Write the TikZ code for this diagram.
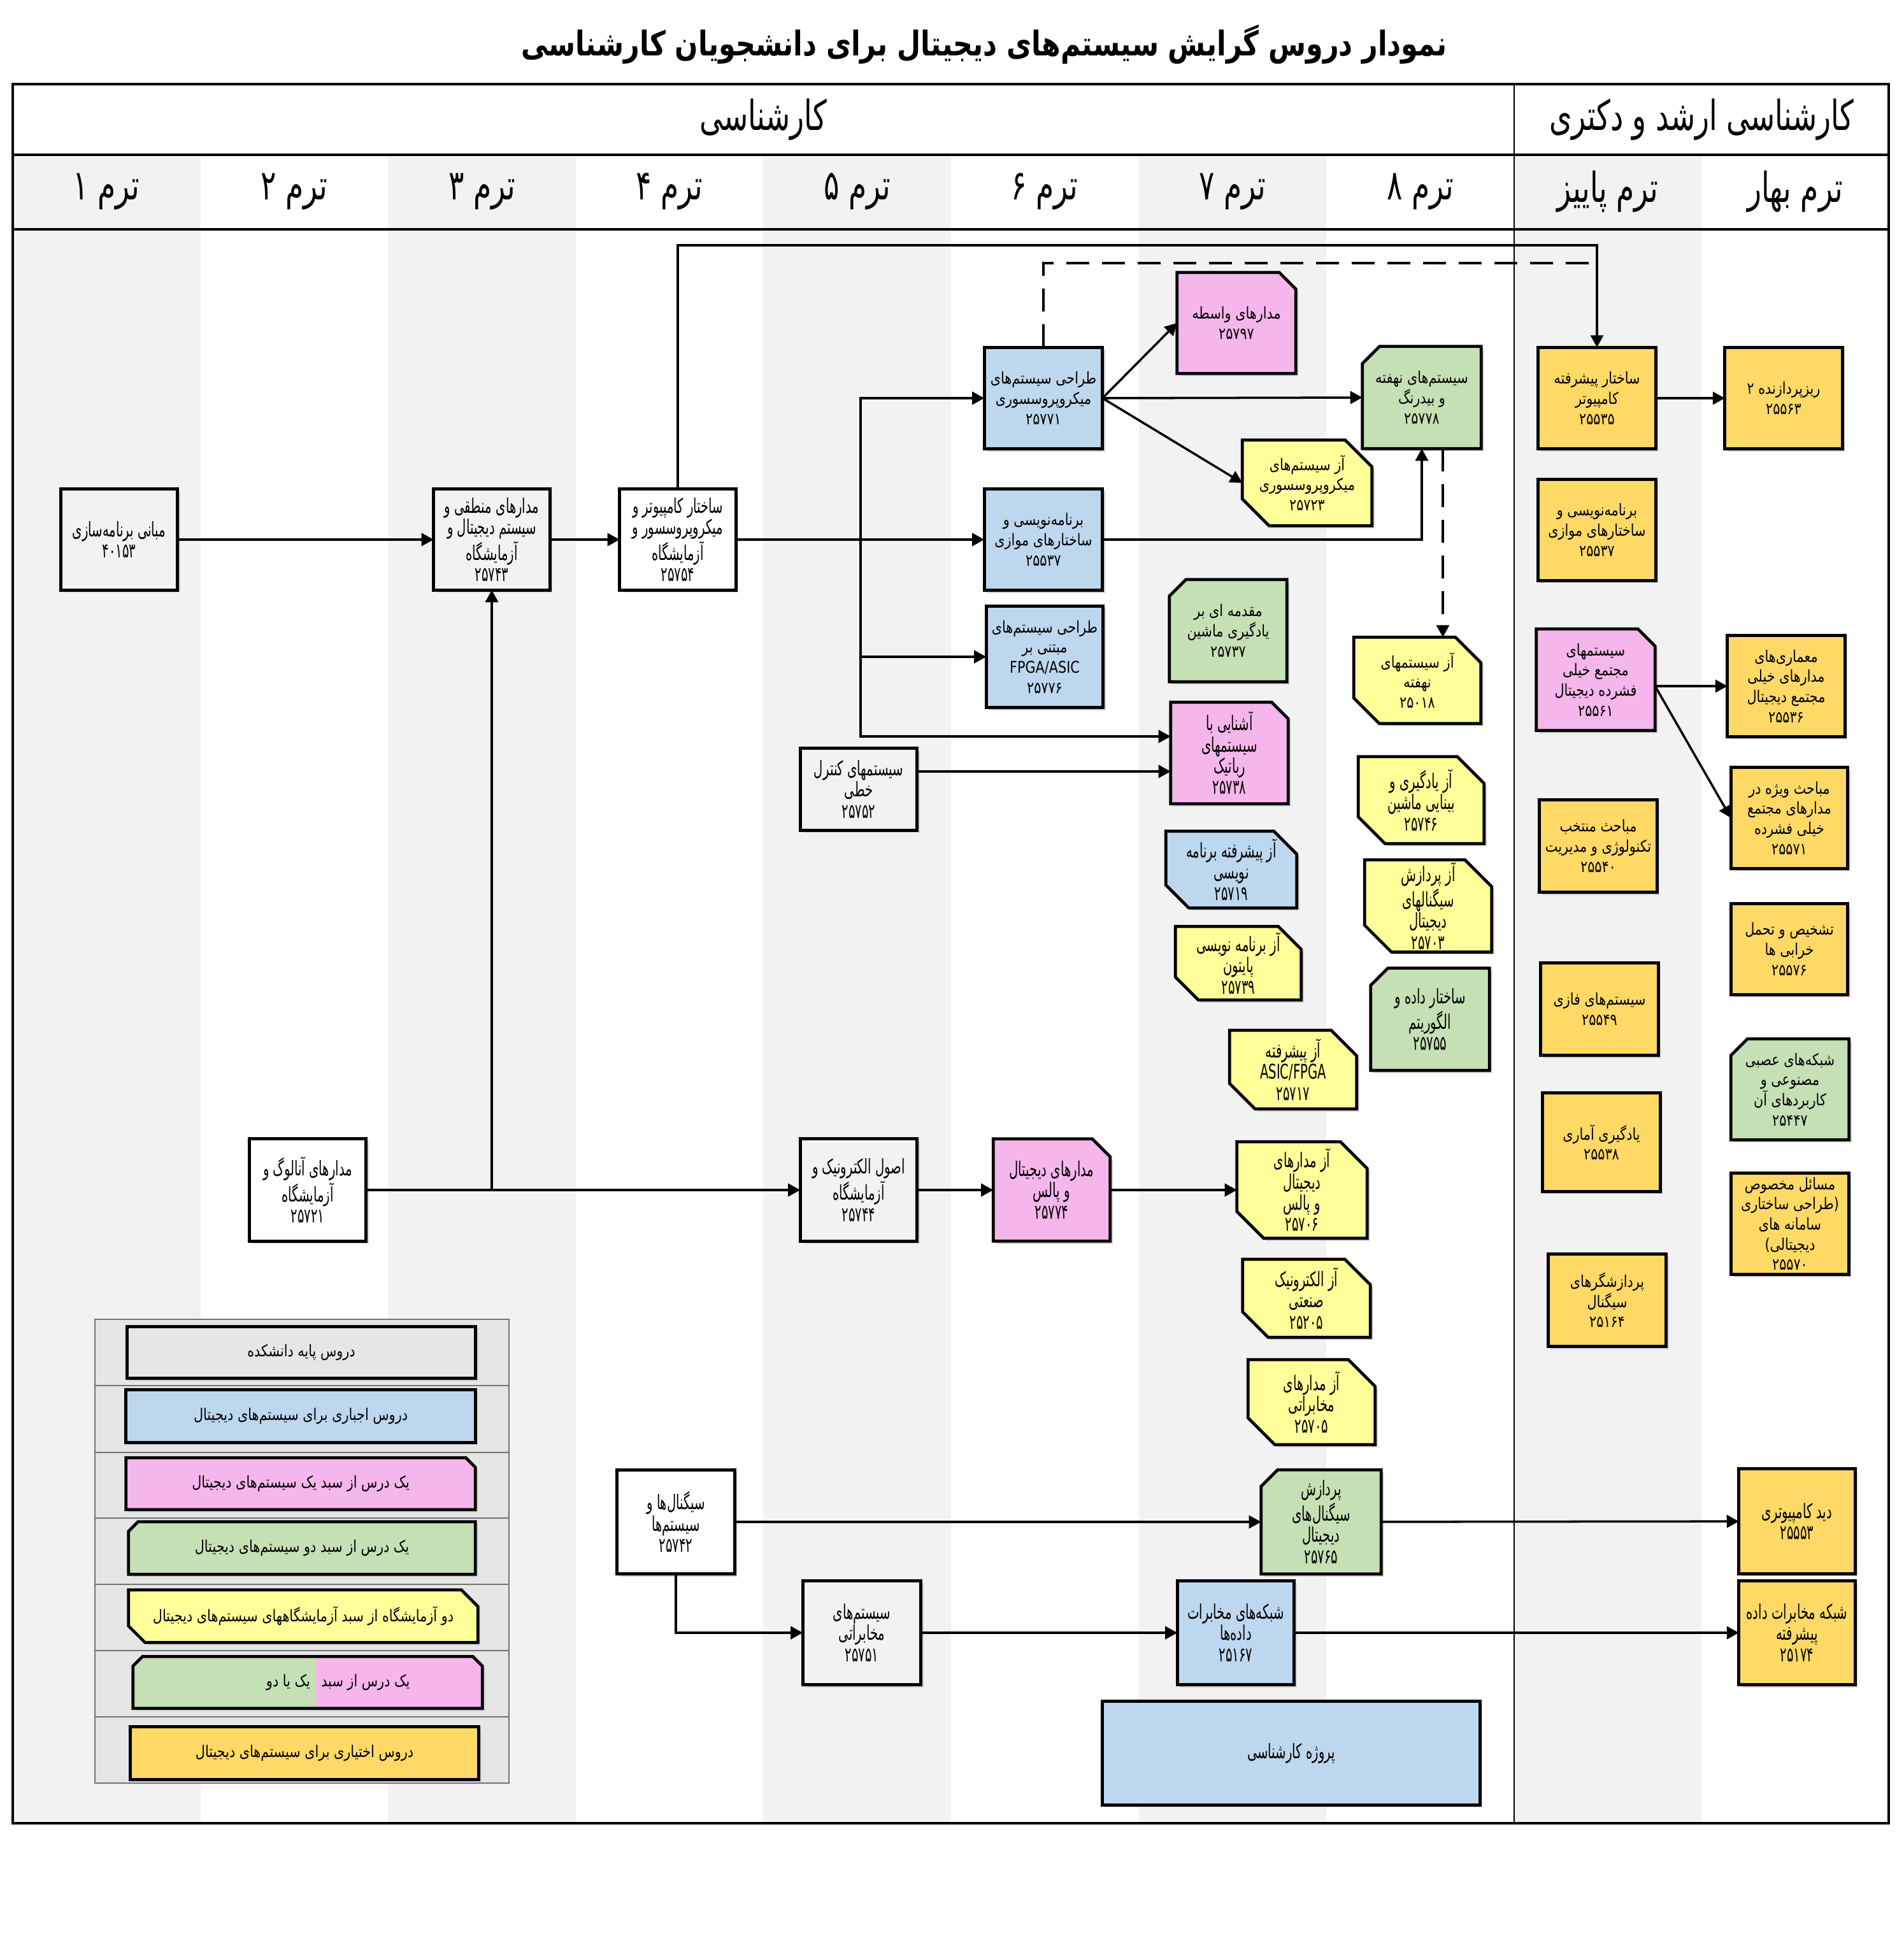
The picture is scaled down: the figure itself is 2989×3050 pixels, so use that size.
\documentclass[tikz,border=0pt]{standalone}
\usepackage{fontspec}
\usetikzlibrary{arrows.meta,calc}
\TeXXeTstate=1
\newfontfamily\fa[Script=Arabic,FakeStretch=0.82]{DejaVu Sans}
\newfontfamily\fan[Script=Arabic,FakeStretch=0.62]{DejaVu Sans}
\newfontfamily\fah[Script=Arabic,FakeStretch=0.7]{DejaVu Sans}
\newfontfamily\fat[Script=Arabic,FakeStretch=0.8]{DejaVu Sans}
\newcommand\RL[1]{\beginR #1\endR}
\definecolor{cgray}{RGB}{242,242,242}
\definecolor{cleg}{RGB}{230,230,230}
\definecolor{cblue}{RGB}{189,215,238}
\definecolor{cpink}{RGB}{245,182,235}
\definecolor{cgreen}{RGB}{197,224,180}
\definecolor{cyel}{RGB}{255,255,153}
\definecolor{corg}{RGB}{255,217,102}
\pgfdeclarelayer{bg}
\pgfdeclarelayer{boxes}
\pgfsetlayers{bg,boxes,main}
\def\pR#1{(#1.north west) rectangle (#1.south east)}
\def\pTR#1{(#1.north west) -- ([xshift=-\chf]#1.north east) -- ([yshift=-\chf]#1.north east) -- (#1.south east) -- (#1.south west) -- cycle}
\def\pTL#1{([xshift=\chf]#1.north west) -- (#1.north east) -- (#1.south east) -- (#1.south west) -- ([yshift=-\chf]#1.north west) -- cycle}
\def\pY#1{(#1.north west) -- ([xshift=-\chf]#1.north east) -- ([yshift=-\chf]#1.north east) -- (#1.south east) -- ([xshift=\chf]#1.south west) -- ([yshift=\chf]#1.south west) -- cycle}
\def\pLR#1{([xshift=\chf]#1.north west) -- ([xshift=-\chf]#1.north east) -- ([yshift=-\chf]#1.north east) -- (#1.south east) -- (#1.south west) -- ([yshift=-\chf]#1.north west) -- cycle}
\newcommand\bx[4]{\begin{pgfonlayer}{boxes}\def\chf{#4}\fill[black!18,transform canvas={shift={(0.04cm,-0.04cm)}}] #1{#2};\draw[boxline,fill=#3] #1{#2};\end{pgfonlayer}}
\tikzset{
  boxline/.style={line width=1.35pt,line join=miter},
  sz/.style 2 args={minimum width=#1cm,minimum height=#2cm},
  bw/.style={inner sep=1pt,align=center,font=\fa\fontsize{7.2}{9}\selectfont},
  bc/.style={inner sep=1pt,align=center,font=\fan\fontsize{9}{9.5}\selectfont},
  lg/.style={inner sep=0pt,align=center,font=\fa\fontsize{7.2}{9}\selectfont},
  hd/.style={inner sep=0pt,font=\fah\fontsize{18.5}{20}\selectfont},
  conn/.style={line width=1pt,-{Triangle[length=0.19cm,width=0.2cm]}},
  dsh/.style={line width=1pt,dash pattern=on 0.36cm off 0.2cm},
}
\begin{document}
\begin{tikzpicture}[x=0.01cm,y=-0.01cm]
\useasboundingbox (0,0) rectangle (2989,3050);
\begin{pgfonlayer}{bg}
\fill[white] (0,0) rectangle (2989,3050);
\foreach \c in {0,2,4,6} \fill[cgray] ({20+\c*294.6},243) rectangle ({20+(\c+1)*294.6},2862);
\fill[cgray] (2377,243) rectangle (2671,2862);
\fill[cleg,draw=black!55,line width=0.5pt] (149,2071) rectangle (799,2799);
\foreach \yy in {2175,2280,2383,2487,2591,2695} \draw[black!55,line width=0.5pt] (149,\yy) -- (799,\yy);
\end{pgfonlayer}
% frame
\draw[line width=1.2pt] (20,132) rectangle (2965,2862);
\draw[line width=1.2pt] (20,243) -- (2965,243);
\draw[line width=1.2pt] (20,360) -- (2965,360);
\draw[line width=0.7pt] (2377,132) -- (2377,2862);
% headers
\node[inner sep=0pt,font=\fat\bfseries\fontsize{15.2}{18}\selectfont] (title) at (1545,70) {\RL{نمودار دروس گرایش سیستم‌های دیجیتال برای دانشجویان کارشناسی}};
\node[hd] (hu) at (1198,188) {\RL{کارشناسی}};
\node[hd] (hg) at (2671,188) {\RL{کارشناسی ارشد و دکتری}};
\node[hd] (t1) at (167,301) {\RL{ترم ۱}};
\node[hd] (t2) at (462,301) {\RL{ترم ۲}};
\node[hd] (t3) at (757,301) {\RL{ترم ۳}};
\node[hd] (t4) at (1051,301) {\RL{ترم ۴}};
\node[hd] (t5) at (1346,301) {\RL{ترم ۵}};
\node[hd] (t6) at (1640,301) {\RL{ترم ۶}};
\node[hd] (t7) at (1935,301) {\RL{ترم ۷}};
\node[hd] (t8) at (2230,301) {\RL{ترم ۸}};
\node[hd] (tf) at (2524,301) {\RL{ترم پاییز}};
\node[hd] (ts) at (2818,301) {\RL{ترم بهار}};
% undergraduate core
\node[bc,sz={1.82}{1.57}] (b40153) at (187,847) {\RL{مبانی برنامه‌سازی}\\\RL{۴۰۱۵۳}}; \bx\pR{b40153}{cgray}{0cm}
\node[bc,sz={1.81}{1.57}] (b25743) at (772,847) {\RL{مدارهای منطقی و}\\\RL{سیستم دیجیتال و}\\\RL{آزمایشگاه}\\\RL{۲۵۷۴۳}}; \bx\pR{b25743}{cgray}{0cm}
\node[bc,sz={1.81}{1.57}] (b25754) at (1064,847) {\RL{ساختار کامپیوتر و}\\\RL{میکروپروسسور و}\\\RL{آزمایشگاه}\\\RL{۲۵۷۵۴}}; \bx\pR{b25754}{white}{0cm}
\node[bc,sz={1.82}{1.59}] (b25721) at (483,1868) {\RL{مدارهای آنالوگ و}\\\RL{آزمایشگاه}\\\RL{۲۵۷۲۱}}; \bx\pR{b25721}{white}{0cm}
\node[bc,sz={1.82}{1.27}] (b25752) at (1348,1239) {\RL{سیستمهای کنترل}\\\RL{خطی}\\\RL{۲۵۷۵۲}}; \bx\pR{b25752}{cgray}{0cm}
\node[bc,sz={1.82}{1.59}] (b25744) at (1348,1868) {\RL{اصول الکترونیک و}\\\RL{آزمایشگاه}\\\RL{۲۵۷۴۴}}; \bx\pR{b25744}{cgray}{0cm}
\node[bc,sz={1.83}{1.62}] (b25742) at (1061,2389) {\RL{سیگنال‌ها و}\\\RL{سیستم‌ها}\\\RL{۲۵۷۴۲}}; \bx\pR{b25742}{white}{0cm}
\node[bc,sz={1.84}{1.62}] (b25751) at (1353,2563) {\RL{سیستم‌های}\\\RL{مخابراتی}\\\RL{۲۵۷۵۱}}; \bx\pR{b25751}{cgray}{0cm}
% compulsory (blue)
\node[bw,sz={1.84}{1.58}] (b25771) at (1638,625) {\RL{طراحی سیستم‌های}\\\RL{میکروپروسسوری}\\\RL{۲۵۷۷۱}}; \bx\pR{b25771}{cblue}{0cm}
\node[bw,sz={1.84}{1.58}] (b25537u) at (1638,847) {\RL{برنامه‌نویسی و}\\\RL{ساختارهای موازی}\\\RL{۲۵۵۳۷}}; \bx\pR{b25537u}{cblue}{0cm}
\node[bw,sz={1.82}{1.58}] (b25776) at (1640,1031) {\RL{طراحی سیستم‌های}\\\RL{مبتنی بر}\\FPGA/ASIC\\\RL{۲۵۷۷۶}}; \bx\pR{b25776}{cblue}{0cm}
\node[bc,sz={1.82}{1.62}] (b25167) at (1940,2563) {\RL{شبکه‌های مخابرات}\\\RL{داده‌ها}\\\RL{۲۵۱۶۷}}; \bx\pR{b25167}{cblue}{0cm}
\node[bc,sz={5.91}{1.61}] (proj) at (2027,2752) {\RL{پروژه کارشناسی}}; \bx\pR{proj}{cblue}{0cm}
% basket one (pink)
\node[bc,sz={1.82}{1.59}] (b25774) at (1651,1868) {\RL{مدارهای دیجیتال}\\\RL{و پالس}\\\RL{۲۵۷۷۴}}; \bx\pTR{b25774}{cpink}{0.28cm}
\node[bw,sz={1.85}{1.57}] (b25797) at (1941,507) {\RL{مدارهای واسطه}\\\RL{۲۵۷۹۷}}; \bx\pTR{b25797}{cpink}{0.26cm}
\node[bc,sz={1.83}{1.58}] (b25738) at (1930,1182) {\RL{آشنایی با}\\\RL{سیستمهای}\\\RL{رباتیک}\\\RL{۲۵۷۳۸}}; \bx\pTR{b25738}{cpink}{0.26cm}
% basket two (green)
\node[bw,sz={1.83}{1.59}] (b25737) at (1928,990) {\RL{مقدمه ای بر}\\\RL{یادگیری ماشین}\\\RL{۲۵۷۳۷}}; \bx\pTL{b25737}{cgreen}{0.26cm}
\node[bw,sz={1.85}{1.59}] (b25778) at (2232,624) {\RL{سیستم‌های نهفته}\\\RL{و بیدرنگ}\\\RL{۲۵۷۷۸}}; \bx\pTL{b25778}{cgreen}{0.27cm}
\node[bc,sz={1.85}{1.59}] (b25755) at (2245,1600) {\RL{ساختار داده و}\\\RL{الگوریتم}\\\RL{۲۵۷۵۵}}; \bx\pTL{b25755}{cgreen}{0.27cm}
\node[bc,sz={1.87}{1.62}] (b25765) at (2074,2389) {\RL{پردازش}\\\RL{سیگنال‌های}\\\RL{دیجیتال}\\\RL{۲۵۷۶۵}}; \bx\pTL{b25765}{cgreen}{0.26cm}
% labs (yellow)
\node[bw,sz={2.02}{1.33}] (b25723) at (2052,758) {\RL{آز سیستم‌های}\\\RL{میکروپروسسوری}\\\RL{۲۵۷۲۳}}; \bx\pY{b25723}{cyel}{0.42cm}
\node[bw,sz={1.98}{1.34}] (b25018) at (2225,1068) {\RL{آز سیستمهای}\\\RL{نهفته}\\\RL{۲۵۰۱۸}}; \bx\pY{b25018}{cyel}{0.40cm}
\node[bc,sz={2.04}{1.19}] (b25719) at (1933,1365) {\RL{آز پیشرفته برنامه}\\\RL{نویسی}\\\RL{۲۵۷۱۹}}; \bx\pY{b25719}{cblue}{0.36cm}
\node[bc,sz={1.96}{1.14}] (b25739) at (1944,1512) {\RL{آز برنامه نویسی}\\\RL{پایتون}\\\RL{۲۵۷۳۹}}; \bx\pY{b25739}{cyel}{0.36cm}
\node[bc,sz={1.96}{1.35}] (b25746) at (2231,1256) {\RL{آز یادگیری و}\\\RL{بینایی ماشین}\\\RL{۲۵۷۴۶}}; \bx\pY{b25746}{cyel}{0.42cm}
\node[bc,sz={1.98}{1.35}] (b25703) at (2242,1422) {\RL{آز پردازش}\\\RL{سیگنالهای}\\\RL{دیجیتال}\\\RL{۲۵۷۰۳}}; \bx\pY{b25703}{cyel}{0.42cm}
\node[bc,sz={1.98}{1.22}] (b25717) at (2030,1679) {\RL{آز پیشرفته}\\ASIC/FPGA\\\RL{۲۵۷۱۷}}; \bx\pY{b25717}{cyel}{0.40cm}
\node[bc,sz={2.03}{1.50}] (b25706) at (2044,1868) {\RL{آز مدارهای}\\\RL{دیجیتال}\\\RL{و پالس}\\\RL{۲۵۷۰۶}}; \bx\pY{b25706}{cyel}{0.42cm}
\node[bc,sz={1.99}{1.21}] (b25205) at (2051,2038) {\RL{آز الکترونیک}\\\RL{صنعتی}\\\RL{۲۵۲۰۵}}; \bx\pY{b25205}{cyel}{0.40cm}
\node[bc,sz={1.98}{1.32}] (b25705) at (2059,2201) {\RL{آز مدارهای}\\\RL{مخابراتی}\\\RL{۲۵۷۰۵}}; \bx\pY{b25705}{cyel}{0.42cm}
% graduate
\node[bw,sz={1.83}{1.58}] (b25535) at (2507,625) {\RL{ساختار پیشرفته}\\\RL{کامپیوتر}\\\RL{۲۵۵۳۵}}; \bx\pR{b25535}{corg}{0cm}
\node[bw,sz={1.83}{1.58}] (b25563) at (2800,625) {\RL{ریزپردازنده ۲}\\\RL{۲۵۵۶۳}}; \bx\pR{b25563}{corg}{0cm}
\node[bw,sz={1.83}{1.57}] (b25537g) at (2507,832) {\RL{برنامه‌نویسی و}\\\RL{ساختارهای موازی}\\\RL{۲۵۵۳۷}}; \bx\pR{b25537g}{corg}{0cm}
\node[bw,sz={1.85}{1.58}] (b25561) at (2505,1067) {\RL{سیستمهای}\\\RL{مجتمع خیلی}\\\RL{فشرده دیجیتال}\\\RL{۲۵۵۶۱}}; \bx\pTR{b25561}{cpink}{0.27cm}
\node[bw,sz={1.83}{1.57}] (b25536) at (2804,1077) {\RL{معماری‌های}\\\RL{مدارهای خیلی}\\\RL{مجتمع دیجیتال}\\\RL{۲۵۵۳۶}}; \bx\pR{b25536}{corg}{0cm}
\node[bw,sz={1.82}{1.57}] (b25571) at (2809,1284) {\RL{مباحث ویژه در}\\\RL{مدارهای مجتمع}\\\RL{خیلی فشرده}\\\RL{۲۵۵۷۱}}; \bx\pR{b25571}{corg}{0cm}
\node[bw,sz={1.83}{1.44}] (b25540) at (2509,1328) {\RL{مباحث منتخب}\\\RL{تکنولوژی و مدیریت}\\\RL{۲۵۵۴۰}}; \bx\pR{b25540}{corg}{0cm}
\node[bw,sz={1.82}{1.41}] (b25576) at (2809,1490) {\RL{تشخیص و تحمل}\\\RL{خرابی ها}\\\RL{۲۵۵۷۶}}; \bx\pR{b25576}{corg}{0cm}
\node[bw,sz={1.83}{1.44}] (b25549) at (2511,1584) {\RL{سیستم‌های فازی}\\\RL{۲۵۵۴۹}}; \bx\pR{b25549}{corg}{0cm}
\node[bw,sz={1.84}{1.57}] (b25447) at (2810,1710) {\RL{شبکه‌های عصبی}\\\RL{مصنوعی و}\\\RL{کاربردهای آن}\\\RL{۲۵۴۴۷}}; \bx\pTL{b25447}{cgreen}{0.26cm}
\node[bw,sz={1.83}{1.53}] (b25538) at (2514,1793) {\RL{یادگیری آماری}\\\RL{۲۵۵۳۸}}; \bx\pR{b25538}{corg}{0cm}
\node[bw,sz={1.83}{1.58}] (b25570) at (2810,1921) {\RL{مسائل مخصوص}\\\RL{(طراحی ساختاری}\\\RL{سامانه های}\\\RL{دیجیتالی)}\\\RL{۲۵۵۷۰}}; \bx\pR{b25570}{corg}{0cm}
\node[bw,sz={1.84}{1.44}] (b25164) at (2523,2041) {\RL{پردازشگرهای}\\\RL{سیگنال}\\\RL{۲۵۱۶۴}}; \bx\pR{b25164}{corg}{0cm}
\node[bc,sz={1.81}{1.63}] (b25553) at (2821,2388) {\RL{دید کامپیوتری}\\\RL{۲۵۵۵۳}}; \bx\pR{b25553}{corg}{0cm}
\node[bc,sz={1.81}{1.62}] (b25174) at (2821,2563) {\RL{شبکه مخابرات داده}\\\RL{پیشرفته}\\\RL{۲۵۱۷۴}}; \bx\pR{b25174}{corg}{0cm}
% legend
\node[lg,sz={5.46}{0.80}] (L1) at (473,2123) {\RL{دروس پایه دانشکده}}; \bx\pR{L1}{cleg}{0cm}
\node[lg,sz={5.47}{0.81}] (L2) at (472,2223) {\RL{دروس اجباری برای سیستم‌های دیجیتال}}; \bx\pR{L2}{cblue}{0cm}
\node[lg,sz={5.47}{0.80}] (L3) at (472,2329) {\RL{یک درس از سبد یک سیستم‌های دیجیتال}}; \bx\pTR{L3}{cpink}{0.15cm}
\node[lg,sz={5.43}{0.81}] (L4) at (474,2430) {\RL{یک درس از سبد دو سیستم‌های دیجیتال}}; \bx\pTL{L4}{cgreen}{0.15cm}
\node[lg,sz={5.47}{0.81}] (L5) at (476,2537) {\RL{دو آزمایشگاه از سبد آزمایشگاههای سیستم‌های دیجیتال}}; \bx\pY{L5}{cyel}{0.26cm}
\node[inner sep=0pt,sz={5.47}{0.80}] (L6) at (483,2641) {};
\coordinate (L6t) at ($(L6.north west)!0.523!(L6.north east)$);
\coordinate (L6b) at ($(L6.south west)!0.523!(L6.south east)$);
\coordinate (L6m) at ($(L6t)!0.5!(L6b)$);
\begin{pgfonlayer}{boxes}
\def\chf{0.15cm}
\fill[black!18,transform canvas={shift={(0.04cm,-0.04cm)}}] \pLR{L6};
\fill[cgreen] ([xshift=\chf]L6.north west) -- (L6t) -- (L6b) -- (L6.south west) -- ([yshift=-\chf]L6.north west) -- cycle;
\fill[cpink] (L6t) -- ([xshift=-\chf]L6.north east) -- ([yshift=-\chf]L6.north east) -- (L6.south east) -- (L6b) -- cycle;
\draw[boxline] \pLR{L6};
\end{pgfonlayer}
\node[lg,anchor=west] (L6a) at ([xshift=0.08cm]L6m) {\RL{یک درس از سبد}};
\node[lg,anchor=east] (L6c) at ([xshift=-0.08cm]L6m) {\RL{یک یا دو}};
\node[lg,sz={5.46}{0.81}] (L7) at (478,2752) {\RL{دروس اختیاری برای سیستم‌های دیجیتال}}; \bx\pR{L7}{corg}{0cm}
% connectors
\coordinate (ytop) at (0,385);
\coordinate (ydash) at (0,413);
\coordinate (yk) at (0,1211);
\coordinate (j1) at (1351,847);
\draw[conn] (b25754.north) -- (b25754.north |- ytop) -- (b25535.north |- ytop) -- (b25535.north);
\draw[dsh] (b25771.north) -- (b25771.north |- ydash) -- (b25535.north |- ydash);
\draw[conn] (b40153) -- (b25743);
\draw[conn] (b25743) -- (b25754);
\draw[conn] (b25754) -- (b25537u);
\draw[conn] (j1) |- (b25771.west);
\draw[conn] (j1) |- (b25776.west);
\draw[conn] (j1) |- ([yshift=0.26cm]b25738.west);
\draw[conn] (b25752.east |- yk) -- (b25738.west |- yk);
\coordinate (j2) at (b25743.south |- b25721.east);
\draw[conn] (b25721) -- (b25744);
\draw[conn] (j2) -- (b25743.south);
\draw[conn] (b25744) -- (b25774);
\draw[conn] (b25774) -- (b25706);
\draw[conn] (b25771.east) -- (b25797.west);
\draw[conn] (b25771.east) -- (b25778.west);
\draw[conn] (b25771.east) -- (b25723.west);
\draw[conn] (b25537u.east) -| (b25778.south);
\draw[dsh,-{Triangle[length=0.19cm,width=0.2cm]}] ([xshift=0.33cm]b25778.south) -- ([xshift=0.33cm]b25778.south |- b25018.north);
\draw[conn] (b25535) -- (b25563);
\draw[conn] (b25561.east |- b25536.west) -- (b25536.west);
\draw[conn] (b25561.east |- b25536.west) -- (b25571.west);
\draw[conn] (b25742) -- (b25765);
\draw[conn] (b25765) -- (b25553);
\draw[conn] (b25742.south) |- (b25751.west);
\draw[conn] (b25751) -- (b25167);
\draw[conn] (b25167) -- (b25174);
\end{tikzpicture}
\end{document}
